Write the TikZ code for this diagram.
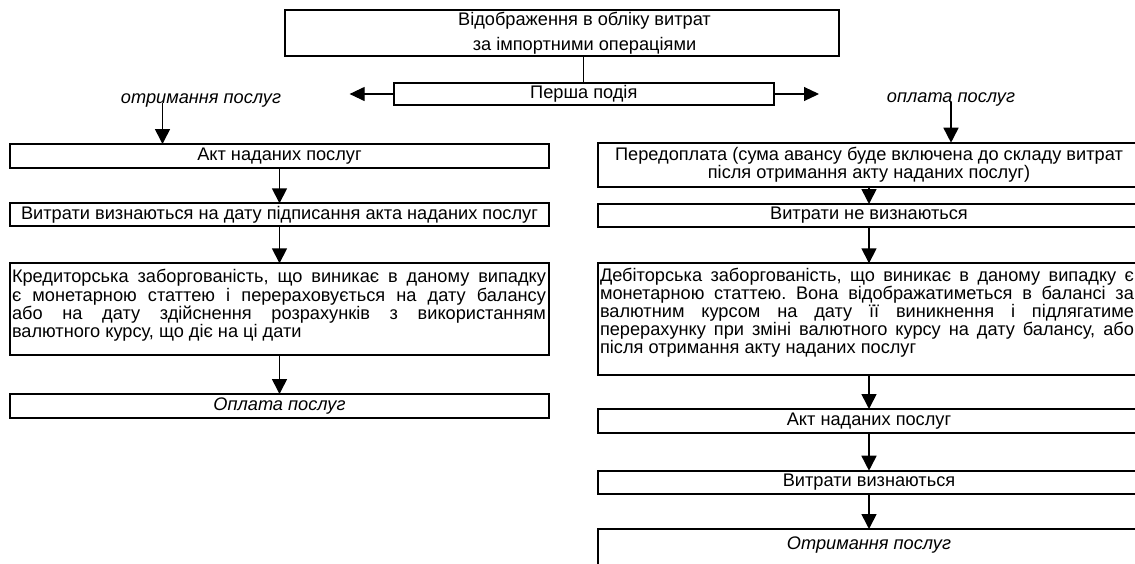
\documentclass[tikz,border=0pt]{standalone}
\usepackage{fontspec}
\setmainfont{Liberation Sans}
\usetikzlibrary{arrows.meta}
\frenchspacing
\hyphenpenalty=10000
\exhyphenpenalty=10000
\newcommand{\fs}{\fontsize{18.2pt}{18.3pt}\selectfont}
\begin{document}
\begin{tikzpicture}[x=1pt,y=-1pt, font=\fs,
  bx/.style={draw, line width=1.8pt, inner sep=0pt, outer sep=0pt, anchor=north west, align=center},
  bxj/.style={draw, line width=1.8pt, inner sep=0pt, outer sep=0pt, anchor=north west},
  arr/.style={line width=1.6pt, -{Triangle[length=15pt,width=15pt]}},
  harr/.style={line width=1.1pt, -{Triangle[length=15pt,width=14pt]}},
  lbl/.style={font=\fs\itshape, inner sep=0pt}]
\useasboundingbox (0,0) rectangle (1135,563);
\clip (0,0) rectangle (1135,563);

% top
\node[bxj, minimum width=554pt, minimum height=46pt] (T) at (285,10)
  {\makebox[554pt][l]{\hspace{45pt}\parbox{509pt}{\centering\fontsize{18.2pt}{25pt}\selectfont
   Відображення в обліку витрат\\за імпортними операціями}}};
\node[bx, minimum width=380.4pt, minimum height=22pt] (P) at (393.6,83) {Перша подія};
\draw[line width=1.1pt] (P.north) -- (P.north |- T.south);
\coordinate (PL) at (349.6,94);
\coordinate (PR) at (819,94);
\draw[harr] (P.west) -- (PL);
\draw[harr] (P.east) -- (PR);

% labels
\node[lbl] (lblL) at (201,100) {отримання послуг};
\node[lbl] (lblR) at (951,99) {оплата послуг};

% left column
\node[bx, minimum width=539pt, minimum height=24.3pt] (A1) at (10,144) {Акт наданих послуг};
\node[bx, minimum width=539pt, minimum height=22.4pt] (A2) at (10,203.3)
  {Витрати визнаються на дату підписання акта наданих послуг};
\node[bxj, minimum width=539pt, minimum height=91.7pt] (A3) at (10,263.3)
  {\makebox[539pt][l]{\hspace{2pt}\parbox[c][91.7pt][t]{534pt}{\rule{0pt}{19.4pt}Кредиторська заборгованість, що виникає в даному випадку\linebreak
   є монетарною статтею і перераховується на дату балансу\linebreak
   або на дату здійснення розрахунків з використанням\linebreak
   валютного курсу, що діє на ці дати}}};
\node[bx, minimum width=539pt, minimum height=24.3pt, font=\fs\itshape] (A4) at (10,394) {Оплата послуг};

% right column
\node[bx, minimum width=542pt, minimum height=44.6pt, font=\fontsize{18.2pt}{18pt}\selectfont] (B1) at (598,142.7)
  {Передоплата (сума авансу буде включена до складу витрат\\після отримання акту наданих послуг)};
\node[bx, minimum width=542pt, minimum height=22.7pt] (B2) at (598,204) {Витрати не визнаються};
\node[bxj, minimum width=542pt, minimum height=111.7pt] (B3) at (598,263.3)
  {\makebox[542pt][l]{\hspace{2pt}\parbox[c][111.7pt][t]{534pt}{\fontsize{18.2pt}{18pt}\selectfont\rule{0pt}{17.7pt}Дебіторська заборгованість, що виникає в даному випадку є\linebreak
   монетарною статтею. Вона відображатиметься в балансі за\linebreak
   валютним курсом на дату її виникнення і підлягатиме\linebreak
   перерахунку при зміні валютного курсу на дату балансу, або\linebreak
   після отримання акту наданих послуг}}};
\node[bx, minimum width=542pt, minimum height=24pt] (B4) at (598,409) {Акт наданих послуг};
\node[bx, minimum width=542pt, minimum height=23pt] (B5) at (598,470.7) {Витрати визнаються};
\node[bxj, minimum width=542pt, minimum height=50pt] (B6) at (598,529)
  {\makebox[542pt]{\parbox[c][50pt][t]{534pt}{\centering\rule{0pt}{20pt}\itshape Отримання послуг}}};

% connectors
\path (lblL.base) ++(-38.5,0) coordinate (lsrc);
\draw[arr] (lsrc) -- (lsrc |- A1.north);
\draw[arr] (A1) -- (A2);
\draw[arr] (A2) -- (A3);
\draw[arr] (A3) -- (A4);
\draw[arr] (lblR.base) -- (lblR.base |- B1.north);
\draw[arr] (B1) -- (B2);
\draw[arr] (B2) -- (B3);
\draw[arr] (B3) -- (B4);
\draw[arr] (B4) -- (B5);
\draw[arr] (B5) -- (B6);
\end{tikzpicture}
\end{document}
